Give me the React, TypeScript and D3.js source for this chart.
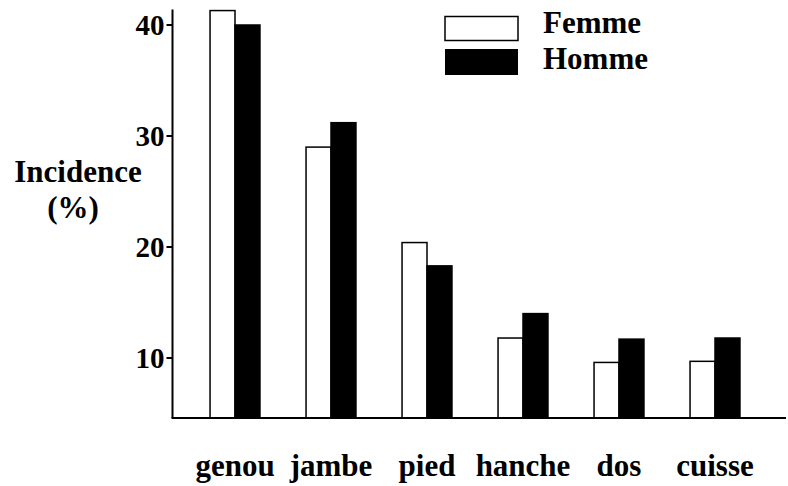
import React from "react";
import * as d3 from "d3";

const categories = ["genou", "jambe", "pied", "hanche", "dos", "cuisse"];
const seriesNames = ["Femme", "Homme"];
const femme = [41.3, 29.0, 20.4, 11.8, 9.6, 9.7];
const homme = [40.0, 31.2, 18.3, 14.0, 11.7, 11.8];
const yTicks = [10, 20, 30, 40];
const yBottom = 4.6;
const yTop = 41.4;

const W = 788;
const H = 486;
const FONT = "'Liberation Serif', 'Times New Roman', serif";

export default function App() {
  const y = d3.scaleLinear().domain([10, 40]).range([358, 25]);
  const x = d3.scaleBand<string>().domain(categories).range([187, 763]).paddingInner(0.48).paddingOuter(0.24);
  const xs = d3.scaleBand<string>().domain(seriesNames).range([0, x.bandwidth()]);
  const axisX = 172.5;
  const base = y(yBottom);
  const values = [femme, homme];

  return (
    <svg width={W} height={H} style={{ position: "absolute", left: 0, top: 0, background: "#fff" }} fontFamily={FONT} fontWeight="bold">
      {/* bars */}
      {categories.map((c, i) =>
        seriesNames.map((s, j) => {
          const v = values[j][i];
          const x0 = (x(c) as number) + (xs(s) as number);
          return (
            <rect
              key={c + s}
              x={x0}
              y={y(v)}
              width={xs.bandwidth()}
              height={base - y(v)}
              fill={j === 0 ? "#fff" : "#000"}
              stroke="#000"
              strokeWidth={1.5}
            />
          );
        })
      )}
      {/* y axis */}
      <line x1={axisX} x2={axisX} y1={y(yTop)} y2={base} stroke="#000" strokeWidth={2} />
      {yTicks.map((t) => (
        <g key={t}>
          <line x1={axisX - 6} x2={axisX} y1={y(t)} y2={y(t)} stroke="#000" strokeWidth={2} />
          <text x={axisX - 8} y={y(t)} dy="0.35em" textAnchor="end" fontSize={29}>
            {t}
          </text>
        </g>
      ))}
      {/* baseline */}
      <line x1={axisX - 1} x2={786} y1={base} y2={base} stroke="#000" strokeWidth={2} />
      {/* x labels */}
      {categories.map((c) => (
        <text key={c} x={(x(c) as number) + x.bandwidth() / 2} y={476} textAnchor="middle" fontSize={31}>
          {c}
        </text>
      ))}
      {/* y title */}
      <text x={78} y={182} textAnchor="middle" fontSize={31}>Incidence</text>
      <text x={73} y={218} textAnchor="middle" fontSize={31}>(%)</text>
      {/* legend */}
      <rect x={445} y={16.5} width={73} height={24} fill="#fff" stroke="#000" strokeWidth={1.5} />
      <rect x={445} y={49} width={73} height={26} fill="#000" />
      <text x={543} y={33} fontSize={31}>Femme</text>
      <text x={543} y={69} fontSize={31}>Homme</text>
    </svg>
  );
}
